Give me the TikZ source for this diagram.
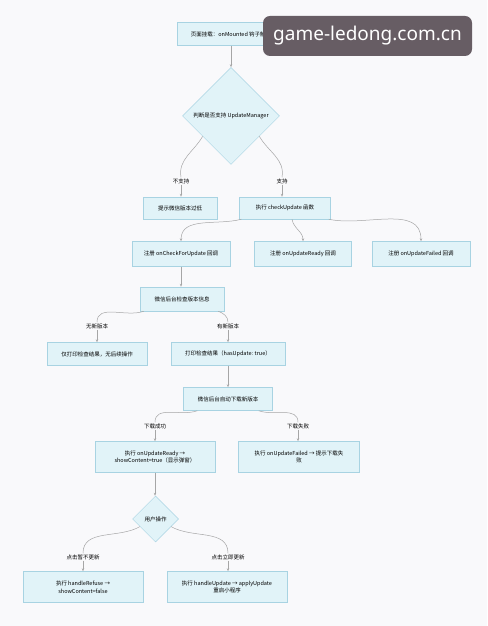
\documentclass[tikz,border=0pt]{standalone}
\usepackage{fontspec}
\setmainfont{Noto Sans CJK SC}
\newfontfamily\markfont{Noto Sans}
\usepackage{xcolor}
\usetikzlibrary{positioning,arrows.meta,shapes.geometric}

\definecolor{boxfill}{HTML}{E1F3F8}
\definecolor{boxline}{HTML}{A8D3E2}
\definecolor{edgegray}{HTML}{A6A6A6}
\definecolor{pagebg}{HTML}{F9F9FB}
\definecolor{markbg}{HTML}{675D64}

\tikzset{
	flowbox/.style={draw=boxline, fill=boxfill, line width=.5pt, align=center, font=\fontsize{5.5}{7.5}\selectfont, inner sep=1pt},
	decide/.style={diamond, aspect=1, draw=boxline, fill=boxfill, line width=.5pt, align=center, font=\fontsize{5.5}{7.5}\selectfont, inner sep=0pt},
	edgelabel/.style={fill=pagebg, font=\fontsize{5.5}{7}\selectfont, inner sep=1pt},
	flowline/.style={draw=edgegray, line width=.5pt},
	flowarrow/.style={flowline, -{Stealth[length=3pt,width=2.4pt]}},
}

\begin{document}
\begin{tikzpicture}[x=1pt,y=1pt]
	% page
	\fill[pagebg] (0,0) rectangle (487,626);
	\useasboundingbox (0,0) rectangle (487,626);

	% boxes
	\node[flowbox, minimum width=108pt, minimum height=23pt] (mount) at (231,592) {页面挂载：onMounted 钩子触发};
	\node[decide, minimum width=97pt, minimum height=97pt] (judge) at (231,510) {判断是否支持 UpdateManager};
	\node[flowbox, minimum width=74pt, minimum height=22pt] (lowver) at (180,418) {提示微信版本过低};
	\node[flowbox, minimum width=91pt, minimum height=22pt] (check) at (285,418) {执行 checkUpdate 函数};
	\node[flowbox, minimum width=98pt, minimum height=25pt] (regcheck) at (181,372) {注册 onCheckForUpdate 回调};
	\node[flowbox, minimum width=97pt, minimum height=25pt] (regready) at (303,372) {注册 onUpdateReady 回调};
	\node[flowbox, minimum width=98pt, minimum height=25pt] (regfail) at (421,372) {注册 onUpdateFailed 回调};
	\node[flowbox, minimum width=84pt, minimum height=24pt] (query) at (182,327) {微信后台检查版本信息};
	\node[flowbox, minimum width=100pt, minimum height=23pt] (noop) at (97,272) {仅打印检查结果，无后续操作};
	\node[flowbox, minimum width=114pt, minimum height=23pt] (found) at (228,272) {打印检查结果（hasUpdate: true）};
	\node[flowbox, minimum width=89pt, minimum height=23pt] (download) at (228,227) {微信后台自动下载新版本};
	\node[flowbox, minimum width=120pt, minimum height=31pt] (ready) at (155,169) {执行 onUpdateReady →\\showContent=true（显示弹窗）};
	\node[flowbox, minimum width=121pt, minimum height=31pt] (failed) at (299,169) {执行 onUpdateFailed → 提示下载失\\败};
	\node[decide, minimum width=46pt, minimum height=46pt] (user) at (155.5,107) {用户操作};
	\node[flowbox, minimum width=120pt, minimum height=31pt] (refuse) at (83,39) {执行 handleRefuse →\\showContent=false};
	\node[flowbox, minimum width=120pt, minimum height=31pt] (apply) at (227,39) {执行 handleUpdate → applyUpdate\\重启小程序};

	% edge labels
	\node[edgelabel] (nosupp) at (181,445) {不支持};
	\node[edgelabel] (supp) at (282,445) {支持};
	\node[edgelabel] (nonew) at (97,300) {无新版本};
	\node[edgelabel] (hasnew) at (228,300) {有新版本};
	\node[edgelabel] (dlok) at (155,200) {下载成功};
	\node[edgelabel] (dlfail) at (298,200) {下载失败};
	\node[edgelabel] (later) at (83,69) {点击暂不更新};
	\node[edgelabel] (now) at (228,69) {点击立即更新};

	% connectors
	\draw[flowarrow] (mount) -- (judge);
	\draw[flowline] ([shift={(-4pt,4pt)}]judge.south west) to[out=240,in=100] (nosupp.north);
	\draw[flowarrow] (nosupp.south) -- (nosupp.south |- lowver.north);
	\draw[flowline] ([shift={(4pt,4pt)}]judge.south east) to[out=-60,in=80] (supp.north);
	\draw[flowarrow] (supp.south) -- (supp.south |- check.north);

	\draw[flowarrow] ([xshift=2pt]check.south west) to[out=195,in=90] (regcheck.north);
	\draw[flowarrow] ([xshift=7pt]check.south) to[out=-80,in=90] (regready.north);
	\draw[flowarrow] ([xshift=-2pt]check.south east) to[out=-12,in=90] (regfail.north);
	\draw[flowarrow] (regcheck.south) -- (regcheck.south |- query.north);

	\draw[flowline] ([xshift=4pt]query.south west) to[out=200,in=90] (nonew.north);
	\draw[flowarrow] (nonew.south) -- (noop.north);
	\draw[flowline] ([xshift=-6pt]query.south east) to[out=-20,in=90] (hasnew.north);
	\draw[flowarrow] (hasnew.south) -- (found.north);
	\draw[flowarrow] (found.south) -- (download.north);

	\draw[flowline] ([xshift=14pt]download.south west) to[out=200,in=90] (dlok.north);
	\draw[flowarrow] (dlok.south) -- (ready.north);
	\draw[flowline] ([xshift=-14pt]download.south east) to[out=-20,in=90] (dlfail.north);
	\draw[flowarrow] (dlfail.south) -- (dlfail.south |- failed.north);
	\draw[flowarrow] (ready.south) -- (ready.south |- user.north);

	\draw[flowline] ([shift={(-4pt,4pt)}]user.south west) to[out=210,in=90] (later.north);
	\draw[flowarrow] (later.south) -- (refuse.north);
	\draw[flowline] ([shift={(4pt,4pt)}]user.south east) to[out=-30,in=90] (now.north);
	\draw[flowarrow] (now.south) -- (now.south |- apply.north);

	% watermark
	\node[fill=markbg, rounded corners=7pt, text=white, font=\markfont\fontsize{19}{19}\selectfont, minimum width=209pt, minimum height=40pt] (mark) at (367.5,590) {game-ledong.com.cn};
\end{tikzpicture}
\end{document}
